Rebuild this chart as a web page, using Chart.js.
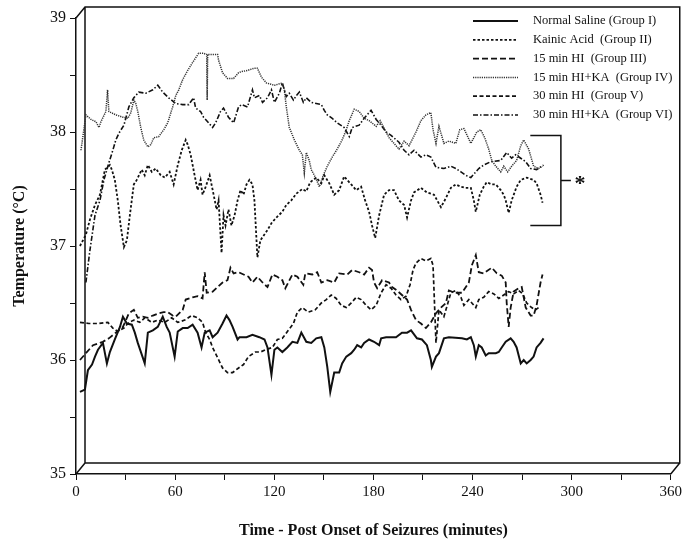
<!DOCTYPE html>
<html>
<head>
<meta charset="utf-8">
<script src="https://cdn.jsdelivr.net/npm/chart.js@4.4.1/dist/chart.umd.min.js"></script>
<style>
  html, body { margin: 0; padding: 0; background: #fff; }
</style>
</head>
<body>
<canvas id="tempChart" width="685" height="545"></canvas>
<script>
// temperature traces, [minutes after seizure onset, degrees C]
const groupI = [[2.4,35.72],[5.4,35.74],[7.2,35.91],[9.7,35.96],[11.5,36.03],[13.3,36.09],[16.3,36.15],[18.7,35.97],[20.5,36.07],[23.5,36.18],[26.6,36.29],[28.4,36.38],[30.8,36.32],[33.8,36.31],[35.6,36.24],[37.4,36.15],[41.6,35.97],[43.5,36.24],[46.5,36.26],[49.5,36.29],[52.5,36.38],[54.9,36.29],[56.7,36.24],[59.7,36.03],[61.6,36.25],[64.6,36.28],[67.6,36.28],[70.6,36.31],[73.6,36.24],[76.0,36.11],[77.9,36.24],[80.9,36.26],[82.7,36.2],[85.7,36.24],[88.7,36.32],[91.1,36.39],[92.9,36.35],[94.8,36.29],[97.8,36.18],[99.0,36.2],[103.2,36.2],[106.8,36.22],[111.0,36.2],[114.1,36.18],[115.9,36.11],[118.3,35.87],[120.1,36.09],[121.9,36.11],[124.9,36.07],[127.9,36.11],[131.0,36.16],[134.0,36.15],[136.4,36.24],[139.4,36.16],[142.4,36.15],[145.4,36.19],[148.5,36.2],[150.3,36.11],[152.1,35.94],[153.9,35.72],[156.3,35.89],[159.3,35.89],[161.1,35.97],[163.6,36.03],[166.6,36.06],[168.4,36.09],[170.2,36.13],[172.6,36.11],[174.4,36.15],[177.4,36.18],[180.4,36.16],[183.5,36.13],[184.7,36.19],[187.7,36.2],[193.7,36.2],[197.3,36.24],[200.4,36.24],[202.8,36.26],[206.4,36.19],[209.4,36.18],[212.4,36.13],[214.8,36.0],[215.4,35.94],[217.9,36.03],[219.7,36.06],[222.7,36.19],[225.7,36.2],[233.6,36.19],[236.6,36.18],[239.0,36.2],[240.8,36.13],[242.0,36.03],[243.8,36.13],[245.6,36.11],[248.0,36.04],[249.8,36.06],[254.1,36.06],[255.9,36.07],[257.7,36.11],[260.1,36.16],[263.1,36.19],[264.9,36.16],[266.7,36.11],[269.2,35.97],[271.0,36.0],[272.8,35.97],[275.2,36.0],[277.0,36.03],[278.8,36.11],[281.2,36.15],[283.0,36.19]];

const groupII = [[2.4,37.0],[6.0,37.1],[8.4,37.23],[11.5,37.36],[14.5,37.45],[17.5,37.67],[20.5,37.71],[21.7,37.67],[23.5,37.58],[25.3,37.4],[27.0,37.18],[29.0,36.99],[30.8,37.05],[32.6,37.27],[35.0,37.54],[36.8,37.58],[39.8,37.67],[41.6,37.62],[43.5,37.71],[45.9,37.65],[48.3,37.68],[51.3,37.62],[53.7,37.6],[56.7,37.65],[59.1,37.54],[61.6,37.71],[64.0,37.84],[66.4,37.93],[67.6,37.89],[69.4,37.8],[71.8,37.62],[73.6,37.49],[75.4,37.58],[76.6,37.45],[78.5,37.52],[80.9,37.62],[83.3,37.45],[85.1,37.32],[86.3,37.4],[88.1,36.94],[89.3,37.27],[90.5,37.18],[92.3,37.32],[94.1,37.18],[96.0,37.27],[97.8,37.4],[99.6,37.49],[101.4,37.45],[103.2,37.54],[105.0,37.58],[106.8,37.54],[108.0,37.4],[109.8,36.9],[111.6,37.05],[115.9,37.14],[118.3,37.2],[121.3,37.25],[124.9,37.3],[127.3,37.36],[130.3,37.4],[133.4,37.46],[137.0,37.5],[139.4,37.48],[141.8,37.56],[145.4,37.6],[148.5,37.55],[150.3,37.62],[153.3,37.55],[156.3,37.45],[159.3,37.49],[162.3,37.61],[164.1,37.58],[166.6,37.54],[169.6,37.49],[172.6,37.52],[175.0,37.4],[177.4,37.3],[179.2,37.18],[181.1,37.07],[183.5,37.27],[186.5,37.45],[189.5,37.49],[192.5,37.49],[195.5,37.4],[198.6,37.36],[200.4,37.25],[202.8,37.4],[204.6,37.47],[208.8,37.51],[212.4,37.47],[216.7,37.45],[220.9,37.34],[223.9,37.42],[226.9,37.51],[229.9,37.54],[232.9,37.52],[235.9,37.51],[239.0,37.51],[240.8,37.4],[242.0,37.3],[244.4,37.45],[246.8,37.52],[248.6,37.56],[251.7,37.54],[254.1,37.54],[257.1,37.49],[258.9,37.45],[260.1,37.4],[261.9,37.29],[263.7,37.4],[266.7,37.52],[269.2,37.58],[272.8,37.6],[277.0,37.58],[278.8,37.55],[281.2,37.45],[282.4,37.38]];

const groupIII = [[2.4,36.0],[6.0,36.06],[10.3,36.13],[16.3,36.16],[19.9,36.19],[24.1,36.24],[28.4,36.29],[32.0,36.41],[35.0,36.44],[37.4,36.37],[40.4,36.38],[43.5,36.37],[46.5,36.39],[50.1,36.41],[53.1,36.42],[55.5,36.42],[58.5,36.39],[60.4,36.38],[64.6,36.44],[66.4,36.53],[70.6,36.55],[73.6,36.56],[76.6,36.54],[77.9,36.77],[79.1,36.59],[82.7,36.6],[85.7,36.64],[88.7,36.68],[91.7,36.7],[93.5,36.81],[95.4,36.76],[98.4,36.77],[101.4,36.75],[104.4,36.73],[106.8,36.68],[109.8,36.73],[112.9,36.68],[115.9,36.64],[118.9,36.75],[121.9,36.73],[124.9,36.7],[126.7,36.63],[131.0,36.75],[134.0,36.73],[137.6,36.66],[138.8,36.76],[143.0,36.75],[146.0,36.77],[148.5,36.68],[152.1,36.7],[156.3,36.68],[159.3,36.76],[164.2,36.75],[167.2,36.79],[171.4,36.77],[174.4,36.75],[177.4,36.81],[179.2,36.79],[180.4,36.68],[182.3,36.63],[185.3,36.7],[189.5,36.68],[191.3,36.64],[194.3,36.61],[197.3,36.57],[200.4,36.53],[202.8,36.44],[205.8,36.35],[208.8,36.32],[211.8,36.28],[214.8,36.33],[217.9,36.41],[220.9,36.46],[223.9,36.5],[225.7,36.61],[229.3,36.59],[233.6,36.59],[237.8,36.68],[239.6,36.83],[242.0,36.92],[243.8,36.77],[246.8,36.76],[251.7,36.81],[254.7,36.76],[257.7,36.74],[260.1,36.68],[260.7,36.5],[261.9,36.29],[263.1,36.46],[264.9,36.6],[267.9,36.63],[269.8,36.64],[272.2,36.46],[275.2,36.39],[277.0,36.39],[278.8,36.48],[281.2,36.68],[282.4,36.75]];

const groupIV = [[3.0,37.84],[6.0,38.15],[9.1,38.11],[12.1,38.09],[13.9,38.04],[15.1,38.09],[18.1,38.18],[19.1,38.37],[19.9,38.18],[24.1,38.15],[28.4,38.13],[31.4,38.12],[33.2,38.17],[35.0,38.28],[36.2,38.25],[37.4,38.18],[39.2,38.04],[41.0,37.93],[43.5,37.87],[45.3,37.89],[47.1,37.95],[50.1,37.96],[53.1,38.02],[55.5,38.08],[58.5,38.22],[60.4,38.32],[62.2,38.37],[64.6,38.46],[67.6,38.54],[70.6,38.61],[74.2,38.69],[77.2,38.69],[79.1,38.68],[79.4,38.28],[79.7,38.68],[82.7,38.68],[85.7,38.68],[86.3,38.63],[88.7,38.52],[91.7,38.47],[95.4,38.47],[98.4,38.52],[100.2,38.53],[103.8,38.54],[108.0,38.56],[109.8,38.56],[112.3,38.48],[115.3,38.43],[120.1,38.41],[124.9,38.43],[126.1,38.37],[127.3,38.22],[129.1,38.04],[132.2,37.93],[135.2,37.84],[137.0,37.8],[138.2,37.64],[139.4,37.82],[141.2,37.75],[142.4,37.67],[145.0,37.6],[147.3,37.52],[149.7,37.62],[152.1,37.7],[155.1,37.78],[158.1,37.85],[161.1,37.93],[163.6,38.02],[165.4,38.1],[168.4,38.2],[171.4,38.18],[174.4,38.12],[177.4,38.1],[181.7,38.05],[184.1,38.1],[189.5,37.95],[192.5,37.9],[195.5,37.85],[198.6,37.92],[201.6,37.88],[205.8,38.0],[208.8,38.1],[211.8,38.15],[214.8,38.17],[216.1,38.02],[217.9,37.9],[219.7,38.05],[222.7,37.9],[225.7,37.92],[229.9,37.9],[232.3,38.02],[234.8,38.03],[239.0,37.9],[242.6,38.0],[245.0,38.02],[247.4,37.95],[249.8,37.85],[251.7,37.75],[254.1,37.7],[257.1,37.65],[258.9,37.7],[261.3,37.65],[263.7,37.7],[266.7,37.75],[269.2,37.88],[271.0,37.93],[274.0,37.85],[277.0,37.7],[280.0,37.68],[282.4,37.7]];

const groupV = [[2.4,36.33],[7.8,36.32],[13.9,36.32],[19.3,36.33],[22.3,36.28],[25.3,36.25],[29.0,36.28],[32.0,36.33],[35.0,36.35],[38.6,36.33],[41.6,36.37],[45.9,36.33],[49.5,36.35],[53.7,36.33],[57.9,36.37],[61.6,36.33],[65.8,36.35],[70.0,36.39],[73.6,36.37],[76.6,36.33],[78.5,36.24],[80.9,36.18],[82.7,36.11],[85.7,36.02],[88.7,35.93],[91.7,35.89],[94.8,35.89],[98.4,35.93],[101.4,35.96],[104.4,36.03],[108.6,36.07],[111.6,36.07],[114.7,36.09],[118.9,36.11],[121.9,36.18],[124.9,36.19],[128.5,36.26],[131.6,36.32],[134.0,36.42],[137.0,36.46],[140.6,36.42],[144.8,36.44],[148.5,36.5],[151.5,36.53],[154.5,36.57],[157.5,36.54],[160.5,36.48],[163.6,36.46],[166.6,36.5],[169.6,36.55],[172.6,36.53],[175.6,36.48],[178.6,36.44],[181.7,36.48],[184.7,36.59],[187.7,36.66],[190.7,36.63],[193.7,36.57],[196.7,36.53],[199.8,36.56],[202.2,36.66],[204.0,36.79],[205.8,36.85],[208.8,36.89],[211.8,36.87],[214.8,36.89],[216.1,36.83],[216.7,36.61],[217.9,36.15],[219.7,36.44],[222.7,36.38],[226.9,36.59],[229.9,36.61],[233.0,36.55],[234.8,36.48],[237.8,36.53],[242.0,36.46],[243.8,36.53],[246.8,36.55],[249.8,36.6],[252.9,36.58],[255.9,36.54],[258.9,36.57],[261.9,36.6],[264.9,36.58],[267.9,36.61],[270.4,36.58],[272.8,36.5],[275.8,36.46],[278.2,36.44],[280.0,36.46]];

const groupVI = [[6.0,36.68],[8.4,36.96],[11.5,37.27],[14.5,37.4],[16.9,37.58],[19.9,37.73],[22.3,37.84],[24.1,37.93],[26.0,37.99],[29.0,38.06],[32.0,38.22],[35.0,38.3],[38.0,38.35],[42.2,38.34],[46.5,38.37],[49.5,38.41],[52.5,38.35],[56.1,38.3],[60.4,38.25],[64.6,38.24],[68.2,38.24],[71.2,38.3],[72.4,38.21],[75.4,38.18],[77.2,38.13],[80.3,38.08],[82.7,38.04],[84.5,38.08],[87.5,38.18],[89.3,38.21],[92.3,38.13],[95.4,38.08],[98.4,38.22],[100.2,38.24],[103.8,38.22],[106.8,38.37],[108.0,38.3],[111.0,38.32],[112.9,38.26],[115.9,38.3],[118.3,38.37],[120.1,38.26],[123.1,38.34],[124.9,38.43],[127.3,38.31],[129.1,38.34],[131.6,38.28],[133.4,38.32],[135.2,38.35],[137.6,38.26],[139.4,38.3],[142.4,38.26],[145.4,38.25],[148.5,38.24],[150.3,38.19],[152.1,38.15],[155.1,38.12],[158.1,38.08],[162.3,38.04],[165.4,37.96],[167.2,38.04],[171.4,38.06],[174.4,38.12],[178.6,38.19],[181.7,38.11],[184.7,38.06],[187.7,38.0],[190.7,37.97],[195.5,37.91],[198.6,37.84],[201.6,37.8],[204.6,37.84],[208.8,37.78],[211.8,37.8],[214.8,37.78],[217.9,37.69],[222.7,37.68],[226.9,37.7],[229.9,37.68],[233.0,37.65],[235.9,37.62],[239.0,37.6],[243.8,37.68],[246.8,37.71],[251.1,37.74],[257.1,37.75],[260.7,37.82],[263.7,37.77],[266.1,37.8],[269.2,37.77],[272.2,37.74],[275.2,37.68],[278.8,37.67],[283.0,37.71]];

const groupLabels = [
  "Normal Saline (Group I)",
  "Kainic Acid  (Group II)",
  "15 min HI  (Group III)",
  "15 min HI+KA  (Group IV)",
  "30 min HI  (Group V)",
  "30 min HI+KA  (Group VI)"
];
const xTicks = [0, 60, 120, 180, 240, 300, 360];
const yTicks = [35, 36, 37, 38, 39];
// bracket marking the three KA-exposed groups at the end of recording
const bracketSpan = [37.97, 37.18];

const serif = "'Liberation Serif', 'Times New Roman', serif";

const styles = [
  { dash: [], width: 2.0, color: "#111" },
  { dash: [2.5, 2], width: 1.8, color: "#111" },
  { dash: [6, 3], width: 1.8, color: "#111" },
  { dash: [1.2, 1], width: 1.5, color: "#333" },
  { dash: [4, 2.5], width: 1.7, color: "#111" },
  { dash: [5, 2, 1.5, 2], width: 1.6, color: "#111" }
];

const series = [groupI, groupII, groupIII, groupIV, groupV, groupVI];

const datasets = series.map((pts, i) => ({
  label: groupLabels[i],
  data: pts.map(p => ({ x: p[0], y: p[1] })),
  borderColor: styles[i].color,
  borderWidth: styles[i].width,
  borderDash: styles[i].dash,
  pointRadius: 0,
  tension: 0,
  fill: false
}));

// 3-D box frame, legend and the bracket with asterisk
const decor = {
  id: "decor",
  beforeDatasetsDraw(chart) {
    const { ctx, chartArea: a } = chart;
    const dx = 9, dy = -11;
    ctx.save();
    ctx.strokeStyle = "#111";
    ctx.lineWidth = 1.5;
    ctx.beginPath();
    ctx.moveTo(a.left, a.top);
    ctx.lineTo(a.left + dx, a.top + dy);
    ctx.lineTo(a.right + dx, a.top + dy);
    ctx.lineTo(a.right + dx, a.bottom + dy);
    ctx.lineTo(a.left + dx, a.bottom + dy);
    ctx.lineTo(a.left + dx, a.top + dy);
    ctx.moveTo(a.left, a.bottom);
    ctx.lineTo(a.left + dx, a.bottom + dy);
    ctx.moveTo(a.right, a.bottom);
    ctx.lineTo(a.right + dx, a.bottom + dy);
    ctx.stroke();
    ctx.restore();
  },
  afterDatasetsDraw(chart) {
    const { ctx, chartArea: a, scales } = chart;
    ctx.save();
    // legend
    const lx0 = a.left + 397, lx1 = a.left + 442, tx = a.left + 457;
    ctx.font = "12.5px " + serif;
    ctx.textBaseline = "middle";
    ctx.fillStyle = "#111";
    chart.data.datasets.forEach((ds, i) => {
      const y = a.top + 3 + i * 18.8;
      ctx.beginPath();
      ctx.setLineDash(ds.borderDash);
      ctx.lineWidth = ds.borderWidth;
      ctx.strokeStyle = ds.borderColor;
      ctx.moveTo(lx0, y);
      ctx.lineTo(lx1, y);
      ctx.stroke();
      ctx.fillText(ds.label, tx, y);
    });
    ctx.setLineDash([]);
    // bracket
    const bx0 = scales.x.getPixelForValue(275);
    const bx1 = scales.x.getPixelForValue(293.5);
    const by0 = scales.y.getPixelForValue(bracketSpan[0]);
    const by1 = scales.y.getPixelForValue(bracketSpan[1]);
    const bm = (by0 + by1) / 2;
    ctx.strokeStyle = "#111";
    ctx.lineWidth = 1.5;
    ctx.beginPath();
    ctx.moveTo(bx0, by0);
    ctx.lineTo(bx1, by0);
    ctx.lineTo(bx1, by1);
    ctx.lineTo(bx0, by1);
    ctx.moveTo(bx1, bm);
    ctx.lineTo(bx1 + 10, bm);
    ctx.stroke();
    ctx.font = "bold 22px " + serif;
    ctx.textAlign = "center";
    ctx.fillText("*", bx1 + 19, bm + 4);
    ctx.restore();
  }
};

new Chart(document.getElementById("tempChart"), {
  type: "line",
  data: { datasets },
  options: {
    responsive: false,
    animation: false,
    layout: { padding: { left: 0, right: 13, top: 18, bottom: 0 } },
    plugins: { legend: { display: false }, tooltip: { enabled: false } },
    scales: {
      x: {
        type: "linear",
        min: 0,
        max: 360,
        afterFit: s => { s.height = 71; },
        border: { display: true, color: "#111", width: 1.5 },
        grid: { drawOnChartArea: false, drawTicks: true, tickLength: 6, color: "#111", tickColor: "#111" },
        ticks: {
          stepSize: 30,
          autoSkip: false,
          maxRotation: 0,
          padding: 3,
          color: "#111",
          font: { family: serif, size: 15 },
          callback: v => (xTicks.includes(v) ? String(v) : "")
        },
        title: {
          display: true,
          text: "Time - Post Onset of Seizures (minutes)",
          color: "#111",
          font: { family: serif, size: 16, weight: "bold" },
          padding: { top: 0, bottom: 5 }
        }
      },
      y: {
        min: 35,
        max: 39,
        afterFit: s => { s.width = 76; },
        border: { display: true, color: "#111", width: 1.5 },
        grid: { drawOnChartArea: false, drawTicks: true, tickLength: 6, color: "#111", tickColor: "#111" },
        ticks: {
          stepSize: 0.5,
          autoSkip: false,
          padding: 4,
          color: "#111",
          font: { family: serif, size: 16 },
          callback: v => (yTicks.includes(v) ? String(v) : "")
        },
        title: {
          display: true,
          text: "Temperature (°C)",
          color: "#111",
          font: { family: serif, size: 16, weight: "bold" },
          padding: { top: 10, bottom: 0 }
        }
      }
    }
  },
  plugins: [decor]
});
</script>
</body>
</html>
